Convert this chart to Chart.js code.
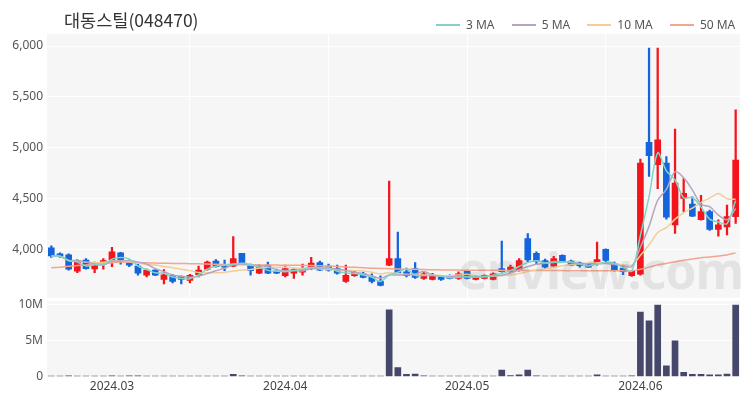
<!DOCTYPE html>
<html>
<head>
<meta charset="utf-8">
<script src="https://cdn.jsdelivr.net/npm/chart.js@4.4.1/dist/chart.umd.min.js"></script>
<style>
  body { margin: 0; background: #fff; font-family: 'Noto Sans', 'Noto Sans CJK KR', sans-serif; }
  #wrap { position: relative; width: 750px; height: 400px; overflow: hidden; }
  #title { position: absolute; left: 64px; top: 7px; font-size: 17.5px; color: #333; font-family: 'Noto Sans CJK KR', 'Noto Sans', sans-serif; }
  #legend { position: absolute; top: 15px; left: 436px; font-size: 12px; color: #555; white-space: nowrap; }
  #legend span.ln { display: inline-block; width: 24px; height: 2px; vertical-align: middle; margin-right: 6px; }
  #legend span.lb { margin-right: 14px; vertical-align: middle; }
  #wm { position: absolute; left: 458px; top: 236px; font-size: 50px; font-weight: bold; color: rgba(120,120,120,0.15); letter-spacing: -1px; pointer-events: none; }
  #priceBox { position: absolute; left: 0; top: 1px; width: 750px; height: 308px; }
  #volBox { position: absolute; left: 0; top: 290px; width: 750px; height: 110px; }
</style>
</head>
<body>
<div id="wrap">
  <div id="priceBox"><canvas id="priceChart"></canvas></div>
  <div id="volBox"><canvas id="volChart"></canvas></div>
  <div id="title">대동스틸(048470)</div>
  <div id="legend">
    <span class="ln" style="background:#80d4c6"></span><span class="lb">3 MA</span>
    <span class="ln" style="background:#b7a3c2"></span><span class="lb">5 MA</span>
    <span class="ln" style="background:#f3cd98"></span><span class="lb">10 MA</span>
    <span class="ln" style="background:#f4a590"></span><span class="lb" style="margin-right:0">50 MA</span>
  </div>
  <div id="wm">enview.com</div>
</div>
<script>
// trading days
var dates = [
  '2024-02-21','2024-02-22','2024-02-23','2024-02-26','2024-02-27','2024-02-28','2024-02-29',
  '2024-03-04','2024-03-05','2024-03-06','2024-03-07','2024-03-08','2024-03-11','2024-03-12','2024-03-13','2024-03-14','2024-03-15',
  '2024-03-18','2024-03-19','2024-03-20','2024-03-21','2024-03-22','2024-03-25','2024-03-26','2024-03-27','2024-03-28','2024-03-29',
  '2024-04-01','2024-04-02','2024-04-03','2024-04-04','2024-04-05','2024-04-08','2024-04-09','2024-04-11','2024-04-12',
  '2024-04-15','2024-04-16','2024-04-17','2024-04-18','2024-04-19','2024-04-22','2024-04-23','2024-04-24','2024-04-25','2024-04-26',
  '2024-04-29','2024-04-30',
  '2024-05-02','2024-05-03','2024-05-07','2024-05-08','2024-05-09','2024-05-10','2024-05-13','2024-05-14','2024-05-16','2024-05-17',
  '2024-05-20','2024-05-21','2024-05-22','2024-05-23','2024-05-24','2024-05-27','2024-05-28','2024-05-29','2024-05-30','2024-05-31',
  '2024-06-03','2024-06-04','2024-06-05','2024-06-07','2024-06-10','2024-06-11','2024-06-12','2024-06-13','2024-06-14','2024-06-17',
  '2024-06-18','2024-06-19'
];

var open = [4020,3960,3950,3790,3900,3812,3860,3900,3970,3890,
            3840,3750,3800,3710,3750,3740,3700,3755,3810,3890,
            3840,3840,3965,3840,3770,3850,3790,3745,3770,3780,
            3815,3875,3840,3815,3690,3745,3765,3740,3690,3850,
            3915,3785,3815,3720,3710,3740,3750,3720,3795,3710,
            3720,3710,3815,3785,3800,4110,3965,3895,3840,3945,
            3890,3870,3855,3875,4005,3865,3820,3745,3760,5055,
            4835,4850,4245,4505,4450,4295,4375,4200,4225,4325];
var high = [4040,3970,3960,3905,3915,3880,3915,4025,3975,3900,
            3860,3810,3805,3805,3760,3745,3760,3840,3890,3905,
            3900,4130,3965,3860,3855,3880,3810,3850,3815,3860,
            3925,3890,3860,3850,3850,3790,3780,3765,3745,4675,
            4175,3820,3875,3785,3770,3750,3755,3785,3800,3745,
            3755,3775,4085,3850,3915,4160,3980,3910,3935,3950,
            3900,3880,3860,4075,4010,3880,3850,3795,4890,5980,
            5980,4915,5185,4700,4520,4535,4390,4295,4440,5375];
var low  = [3925,3925,3800,3775,3810,3775,3810,3835,3860,3835,
            3750,3735,3745,3665,3675,3665,3675,3735,3800,3830,
            3795,3835,3860,3750,3765,3765,3765,3735,3720,3750,
            3805,3795,3790,3760,3680,3740,3725,3675,3645,3845,
            3765,3735,3720,3710,3705,3700,3715,3710,3715,3705,
            3715,3705,3780,3775,3790,3880,3860,3820,3830,3880,
            3845,3830,3825,3850,3880,3790,3755,3740,3750,4720,
            4600,4300,4160,4375,4325,4290,4190,4135,4145,4260];
var close = [3940,3935,3810,3895,3815,3850,3895,3980,3900,3850,
             3770,3800,3752,3755,3690,3710,3750,3800,3880,3835,
             3830,3915,3860,3795,3830,3770,3770,3815,3805,3805,
             3870,3800,3800,3770,3750,3780,3730,3690,3650,3915,
             3775,3745,3730,3765,3750,3710,3720,3765,3720,3735,
             3750,3765,3785,3830,3895,3900,3885,3830,3915,3885,
             3850,3845,3830,3905,3895,3800,3785,3790,4850,4925,
             5080,4320,4655,4555,4330,4375,4200,4245,4325,4880];

// volume in millions
var volume = [0.08,0.06,0.10,0.07,0.05,0.06,0.08,0.12,0.07,0.10,
              0.09,0.06,0.05,0.07,0.06,0.05,0.06,0.07,0.08,0.06,
              0.07,0.30,0.09,0.06,0.05,0.06,0.05,0.06,0.05,0.05,
              0.08,0.06,0.05,0.05,0.06,0.05,0.05,0.06,0.07,9.20,
              1.25,0.30,0.35,0.12,0.08,0.06,0.05,0.06,0.07,0.05,
              0.05,0.06,0.90,0.15,0.25,0.90,0.10,0.08,0.07,0.06,
              0.05,0.05,0.06,0.25,0.08,0.06,0.07,0.10,8.90,7.70,
              9.85,1.50,4.95,0.60,0.30,0.30,0.25,0.25,0.35,9.85];

// 50 MA (needs earlier history)
var ma50 = [3823,3830,3838,3845,3852,3860,3867,3874,3880,3878,
            3875,3872,3870,3868,3866,3865,3864,3862,3860,3858,
            3856,3855,3854,3853,3852,3851,3850,3849,3848,3847,
            3845,3843,3840,3836,3832,3828,3824,3820,3817,3815,
            3812,3810,3808,3806,3804,3803,3802,3801,3800,3800,
            3799,3799,3798,3798,3797,3797,3797,3796,3796,3796,
            3795,3795,3795,3795,3795,3794,3794,3793,3810,3830,
            3852,3866,3883,3898,3909,3921,3930,3940,3950,3970];

var priceTicks = [4000, 4500, 5000, 5500, 6000];
var volTicks = [0, 5e6, 10e6];

var UP = '#f3141c', DOWN = '#1464dc';

function ma(n) {
  return close.map(function (c, i) {
    var s = 0, k = 0;
    for (var j = Math.max(0, i - n + 1); j <= i; j++) { s += close[j]; k++; }
    return s / k;
  });
}

var monthLabel = dates.map(function (d, i) {
  if (i > 0 && d.slice(5, 7) !== dates[i - 1].slice(5, 7)) return d.slice(0, 7).replace('-', '.');
  return '';
});

var colors = close.map(function (c, i) { return c >= open[i] ? UP : DOWN; });

var bgPlugin = {
  id: 'plotBg',
  beforeDraw: function (chart) {
    var a = chart.chartArea, c = chart.ctx;
    c.save();
    c.fillStyle = '#f6f6f6';
    c.fillRect(a.left, a.top, a.right - a.left, a.bottom - a.top);
    c.restore();
  }
};

var fitY = function (scale) { scale.width = 47; };
function setTicks(list) {
  return function (scale) { scale.ticks = list.map(function (v) { return { value: v }; }); };
}

new Chart(document.getElementById('priceChart'), {
  type: 'bar',
  plugins: [bgPlugin],
  data: {
    labels: dates,
    datasets: [
      { type: 'line', label: '3 MA', data: ma(3), borderColor: '#7fd6c8', borderWidth: 1.5, pointRadius: 0, tension: 0.3, order: 0 },
      { type: 'line', label: '5 MA', data: ma(5), borderColor: '#b7a3c2', borderWidth: 1.5, pointRadius: 0, tension: 0.3, order: 0 },
      { type: 'line', label: '10 MA', data: ma(10), borderColor: '#f3cd98', borderWidth: 1.5, pointRadius: 0, tension: 0.3, order: 0 },
      { type: 'line', label: '50 MA', data: ma50, borderColor: '#f4a590', borderWidth: 1.5, pointRadius: 0, tension: 0.3, order: 0 },
      { label: 'wick', data: low.map(function (l, i) { return [l, high[i]]; }), backgroundColor: colors, barThickness: 1.6, grouped: false, order: 2 },
      { label: 'body', data: open.map(function (o, i) { return [o, close[i] === o ? o + 8 : close[i]]; }), backgroundColor: colors, barThickness: 6, grouped: false, order: 1 }
    ]
  },
  options: {
    responsive: true,
    maintainAspectRatio: false,
    animation: false,
    layout: { padding: { top: 33, right: 10, bottom: 4, left: 0 } },
    plugins: { legend: { display: false }, tooltip: { enabled: false } },
    scales: {
      x: {
        offset: true,
        border: { display: false },
        grid: {
          offset: false, drawTicks: false, lineWidth: 1,
          color: function (ctx) { return ctx.index > 0 && ctx.index % 16 === 0 ? '#ffffff' : 'rgba(0,0,0,0)'; }
        },
        ticks: { display: false, autoSkip: false }
      },
      y: {
        min: 3529, max: 6118,
        afterFit: fitY,
        afterBuildTicks: setTicks(priceTicks),
        border: { display: false },
        grid: { color: '#ffffff', drawTicks: false },
        ticks: {
          padding: 4, color: '#555',
          font: { size: 12, family: "'Noto Sans', sans-serif" },
          callback: function (v) { return v.toLocaleString('en-US'); }
        }
      }
    }
  }
});

new Chart(document.getElementById('volChart'), {
  type: 'bar',
  plugins: [bgPlugin],
  data: {
    labels: dates,
    datasets: [
      { label: 'volume', data: volume.map(function (v) { return v * 1e6; }), backgroundColor: '#45476b', barThickness: 6 }
    ]
  },
  options: {
    responsive: true,
    maintainAspectRatio: false,
    animation: false,
    layout: { padding: { top: 0, right: 10, bottom: 3, left: 0 } },
    plugins: { legend: { display: false }, tooltip: { enabled: false } },
    scales: {
      x: {
        offset: true,
        border: { display: false },
        grid: { display: false, drawTicks: false },
        ticks: {
          autoSkip: false, maxRotation: 0, padding: 3, color: '#444',
          font: { size: 12, family: "'Noto Sans', sans-serif" },
          callback: function (v, i) { return monthLabel[i]; }
        }
      },
      y: {
        min: 0, max: 10.4e6,
        afterFit: fitY,
        afterBuildTicks: setTicks(volTicks),
        border: { display: false },
        grid: { color: '#ffffff', drawTicks: false },
        ticks: {
          padding: 4, color: '#555',
          font: { size: 12, family: "'Noto Sans', sans-serif" },
          callback: function (v) { return v === 0 ? '0' : (v / 1e6) + 'M'; }
        }
      }
    }
  }
});
</script>
</body>
</html>
